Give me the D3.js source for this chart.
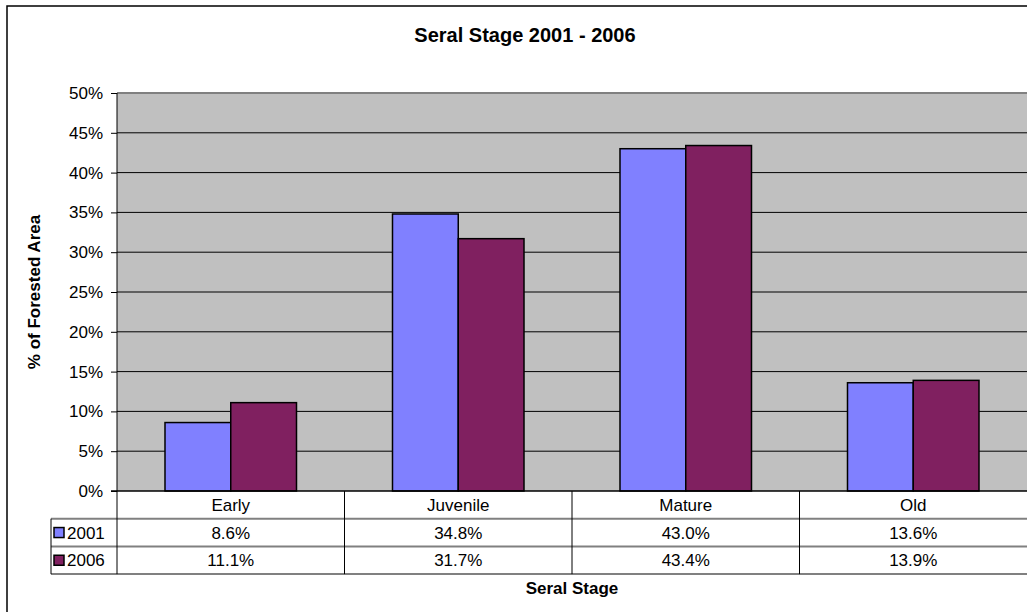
<!DOCTYPE html>
<html>
<head>
<meta charset="utf-8">
<script src="https://cdn.jsdelivr.net/npm/d3@7"></script>
<style>
  body { margin: 0; background: #fff; }
  svg { display: block; font-family: "Liberation Sans", Arial, sans-serif; }
</style>
</head>
<body>
<svg id="chart" width="1027" height="612"></svg>
<script>
const categories = ['Early', 'Juvenile', 'Mature', 'Old'];
const years = ['2001', '2006'];
const values2001 = [8.6, 34.8, 43.0, 13.6];
const values2006 = [11.1, 31.7, 43.4, 13.9];
const yTicks = [0, 5, 10, 15, 20, 25, 30, 35, 40, 45, 50];
const colors = ['#8080ff', '#802060'];

const svg = d3.select('#chart');
const plot = { left: 117, right: 1027, top: 93, bottom: 491 };
const rowH = 27.7;

// outer frame (chart is cut off on the right and bottom)
svg.append('path')
    .attr('d', 'M7,613 L7,6 L1030,6')
    .attr('fill', 'none').attr('stroke', '#000').attr('stroke-width', 1.5);

// title
svg.append('text')
    .attr('x', 525).attr('y', 42)
    .attr('text-anchor', 'middle')
    .attr('font-size', 20).attr('font-weight', 'bold')
    .text('Seral Stage 2001 - 2006');

const x = d3.scaleBand().domain(categories).range([plot.left, plot.right]);
const y = d3.scaleLinear().domain([0, 50]).range([plot.bottom, plot.top]);
const xs = d3.scaleBand().domain(years).range([0, x.bandwidth()]).paddingOuter(0.73).paddingInner(0);

// plot background
svg.append('rect')
    .attr('x', plot.left).attr('y', plot.top)
    .attr('width', plot.right - plot.left).attr('height', plot.bottom - plot.top)
    .attr('fill', '#c0c0c0');
svg.append('line')
    .attr('x1', plot.left).attr('x2', plot.right)
    .attr('y1', plot.top).attr('y2', plot.top)
    .attr('stroke', '#808080').attr('stroke-width', 2);

// grid lines
svg.append('g').selectAll('line')
    .data(yTicks.filter(d => d > 0 && d < 50))
    .join('line')
    .attr('x1', plot.left).attr('x2', plot.right)
    .attr('y1', d => y(d)).attr('y2', d => y(d))
    .attr('stroke', '#000').attr('stroke-width', 1);

// y axis
const yAxis = svg.append('g')
    .attr('transform', `translate(${plot.left},0)`)
    .call(d3.axisLeft(y).tickValues(yTicks).tickFormat(d => d + '%').tickSize(6).tickPadding(8));
yAxis.select('.domain').remove();
yAxis.selectAll('line').attr('stroke', '#000');
yAxis.selectAll('text')
    .attr('font-size', 17).attr('fill', '#000')
    .attr('font-family', '"Liberation Sans", Arial, sans-serif');

// bars
const series = [values2001, values2006];
years.forEach((yr, i) => {
    svg.append('g').selectAll('rect')
        .data(series[i])
        .join('rect')
        .attr('x', (d, j) => x(categories[j]) + xs(yr))
        .attr('y', d => y(d))
        .attr('width', xs.bandwidth())
        .attr('height', d => y(0) - y(d))
        .attr('fill', colors[i])
        .attr('stroke', '#000').attr('stroke-width', 1.5);
});

// data table
const t0 = plot.bottom;
const table = svg.append('g');
[1, 2, 3].forEach(r => {
    table.append('line')
        .attr('x1', 51).attr('x2', plot.right)
        .attr('y1', t0 + r * rowH).attr('y2', t0 + r * rowH)
        .attr('stroke', '#808080').attr('stroke-width', 2);
});
// legend column left edge
table.append('line')
    .attr('x1', 51).attr('x2', 51)
    .attr('y1', t0 + rowH).attr('y2', t0 + 3 * rowH)
    .attr('stroke', '#000').attr('stroke-width', 1);
// vertical separators
const seps = [plot.left].concat(categories.slice(1).map(c => x(c)));
table.selectAll('.sep')
    .data(seps)
    .join('line')
    .attr('x1', d => d).attr('x2', d => d)
    .attr('y1', (d, i) => i === 0 ? plot.top : t0)
    .attr('y2', t0 + 3 * rowH)
    .attr('stroke', '#000').attr('stroke-width', 1);
// x axis line
table.append('line')
    .attr('x1', plot.left - 6).attr('x2', plot.right)
    .attr('y1', t0).attr('y2', t0)
    .attr('stroke', '#000').attr('stroke-width', 1.5);

// category labels
table.selectAll('.cat')
    .data(categories)
    .join('text')
    .attr('x', d => x(d) + x.bandwidth() / 2)
    .attr('y', t0 + rowH / 2)
    .attr('dy', '0.36em')
    .attr('text-anchor', 'middle')
    .attr('font-size', 17)
    .text(d => d);

// value rows with legend keys
series.forEach((vals, i) => {
    const cy = t0 + rowH * (i + 1.5);
    table.append('g').selectAll('text')
        .data(vals)
        .join('text')
        .attr('x', (d, j) => x(categories[j]) + x.bandwidth() / 2)
        .attr('y', cy)
        .attr('dy', '0.36em')
        .attr('text-anchor', 'middle')
        .attr('font-size', 17)
        .text(d => d.toFixed(1) + '%');
    table.append('rect')
        .attr('x', 54).attr('y', cy - 5)
        .attr('width', 10).attr('height', 10)
        .attr('fill', colors[i])
        .attr('stroke', '#000').attr('stroke-width', 1.5);
    table.append('text')
        .attr('x', 67).attr('y', cy)
        .attr('dy', '0.36em')
        .attr('font-size', 17)
        .text(years[i]);
});

// axis titles
svg.append('text')
    .attr('x', (plot.left + plot.right) / 2).attr('y', 594)
    .attr('text-anchor', 'middle')
    .attr('font-size', 17).attr('font-weight', 'bold')
    .text('Seral Stage');
svg.append('text')
    .attr('transform', `translate(34,${(plot.top + plot.bottom) / 2}) rotate(-90)`)
    .attr('dy', '0.36em')
    .attr('text-anchor', 'middle')
    .attr('font-size', 17).attr('font-weight', 'bold')
    .text('% of Forested Area');
</script>
</body>
</html>
